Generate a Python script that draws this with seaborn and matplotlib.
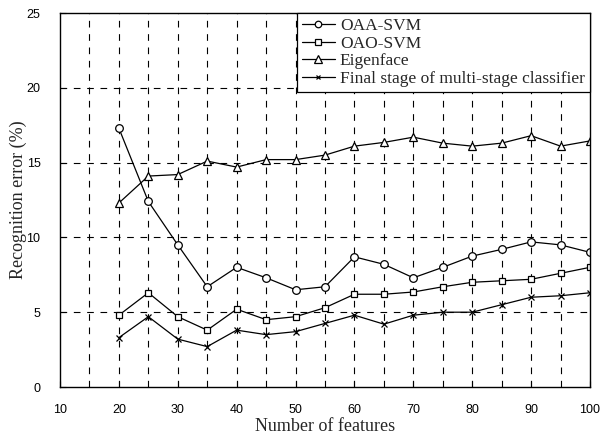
import matplotlib
matplotlib.use("Agg")
import matplotlib.pyplot as plt
import seaborn as sns
import pandas as pd

features = [20, 25, 30, 35, 40, 45, 50, 55, 60, 65, 70, 75, 80, 85, 90, 95, 100]
oaa_svm = [17.3, 12.4, 9.5, 6.7, 8.0, 7.3, 6.5, 6.7, 8.7, 8.2, 7.3, 8.0, 8.75, 9.2, 9.7, 9.5, 9.0]
oao_svm = [4.8, 6.3, 4.7, 3.8, 5.2, 4.5, 4.7, 5.3, 6.2, 6.2, 6.35, 6.7, 7.0, 7.1, 7.2, 7.6, 8.0]
eigenface = [12.3, 14.1, 14.2, 15.1, 14.7, 15.2, 15.2, 15.5, 16.1, 16.35, 16.7, 16.3, 16.1, 16.3, 16.8, 16.1, 16.45]
final_stage = [3.3, 4.7, 3.2, 2.7, 3.8, 3.5, 3.7, 4.25, 4.8, 4.2, 4.8, 5.0, 5.0, 5.5, 6.0, 6.1, 6.3]
series_names = ["OAA-SVM", "OAO-SVM", "Eigenface", "Final stage of multi-stage classifier"]
x_ticks = [10, 20, 30, 40, 50, 60, 70, 80, 90, 100]
y_ticks = [0, 5, 10, 15, 20, 25]

sns.set_theme(style="white")
plt.rcParams["font.family"] = ["Liberation Serif", "DejaVu Serif"]

fig = plt.figure(figsize=(6.01, 4.37), dpi=100)
ax = fig.add_axes([60 / 601, 50 / 437, 530 / 601, 374 / 437])

values = [oaa_svm, oao_svm, eigenface, final_stage]
markers = ["o", "s", "^", "x"]
msizes = [5.5, 4.5, 6.2, 4.0]
for name, vals, mk, ms in zip(series_names, values, markers, msizes):
    df = pd.DataFrame({"features": features, "error": vals})
    sns.lineplot(data=df, x="features", y="error", ax=ax, color="black",
                 linewidth=0.9, marker=mk, markersize=ms,
                 markerfacecolor="white", markeredgecolor="black",
                 markeredgewidth=0.9, label=name)

ax.set_xlim(10, 100)
ax.set_ylim(0, 25)
ax.set_xticks(x_ticks)
ax.set_yticks(y_ticks)
for xv in range(15, 100, 5):
    ax.axvline(xv, color="black", linestyle=(0, (6, 6)), linewidth=0.8, zorder=0)
for yv in [5, 10, 15, 20]:
    ax.axhline(yv, color="black", linestyle=(0, (6, 6)), linewidth=0.8, zorder=0)

for lab in ax.get_xticklabels() + ax.get_yticklabels():
    lab.set_fontfamily("Liberation Sans")
    lab.set_fontsize(9)
ax.tick_params(axis="both", direction="in", length=4, width=0.8, colors="black")
ax.tick_params(axis="x", pad=12.5)
ax.tick_params(axis="y", pad=14)
ax.xaxis.set_ticks_position("bottom")
ax.yaxis.set_ticks_position("left")

for sp in ax.spines.values():
    sp.set_color("black")
    sp.set_linewidth(1.0)

ax.set_xlabel("Number of features", fontsize=13, labelpad=1.5)
ax.set_ylabel("Recognition error (%)", fontsize=13, labelpad=0)

leg = ax.legend(loc="upper right", fontsize=12.5, frameon=True, fancybox=False,
                borderaxespad=0, borderpad=0.3, labelspacing=0.08,
                handlelength=1.9, handletextpad=0.3, markerscale=0.85)
leg.get_frame().set_edgecolor("black")
leg.get_frame().set_linewidth(0.9)
leg.get_frame().set_alpha(1)

fig.savefig("out.png", dpi=100)
